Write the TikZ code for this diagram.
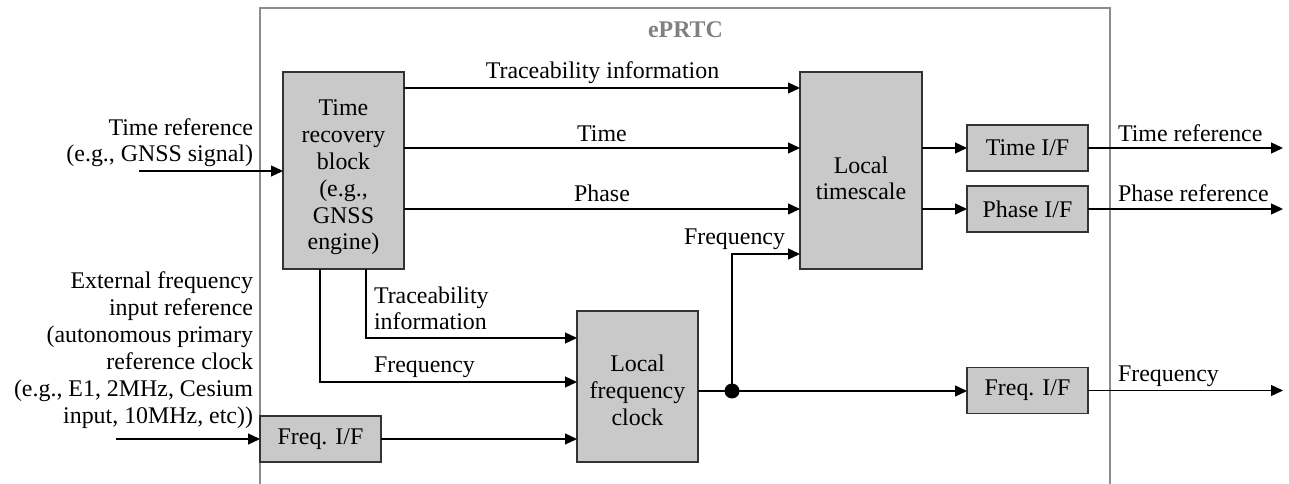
\documentclass[tikz,border=0pt]{standalone}
\usepackage{fontspec}
\setmainfont{Liberation Serif}
\usetikzlibrary{arrows.meta,calc}
\definecolor{boxgray}{RGB}{201,201,201}
\definecolor{framegray}{RGB}{140,140,140}
\definecolor{titlegray}{RGB}{128,128,128}
\begin{document}
\begin{tikzpicture}[x=1bp,y=-1bp,
  every node/.style={font=\fontsize{23.9bp}{26.8bp}\selectfont, inner sep=0pt, outer sep=0pt},
  blk/.style={draw=black!80, fill=boxgray, line width=1.3bp},
  arr/.style={line width=1.3bp, -{Triangle[length=12bp,width=11bp]}},
  ln/.style={line width=1.3bp},
  txt/.style={align=center, anchor=base},
]
\useasboundingbox (0,0) rectangle (1289,484);

% outer frame
\draw[framegray, line width=1.3bp] (260,484) -- (260,8) -- (1110,8) -- (1110,484);
\node[anchor=base, text=titlegray, font=\fontsize{23.9bp}{26.8bp}\selectfont\bfseries] (title) at (685.5,38) {ePRTC};

% blocks
\node[blk, minimum width=121bp, minimum height=197bp] (TRB) at (343.5,170.5) {};
\node[blk, minimum width=122bp, minimum height=197bp] (LT) at (861,170.5) {};
\node[blk, minimum width=121bp, minimum height=151bp] (LFC) at (637.5,386.5) {};
\node[blk, minimum width=121bp, minimum height=46bp] (TIF) at (1027.5,148) {Time I/F};
\node[blk, minimum width=121bp, minimum height=46bp] (PIF) at (1027.5,209) {Phase I/F};
\node[blk, minimum width=121bp, minimum height=46bp] (FIF2) at (1027.5,390.5) {Freq. I/F};
\node[blk, minimum width=121bp, minimum height=46bp] (FIF1) at (320.5,439) {Freq. I/F};

% block texts (base = baseline of last line)
\node[txt] (TRBt) at (343.5,250) {Time\\recovery\\block\\(e.g.,\\GNSS\\engine)};
\node[txt] (LTt) at (861,200) {Local\\timescale};
\node[txt] (LFCt) at (637.5,425) {Local\\frequency\\clock};

% helper coordinates
\coordinate (yTI) at (0,88);
\coordinate (yF) at (0,254);
\coordinate (yT2) at (0,338);
\coordinate (yF2) at (0,382);
\coordinate (xT) at (366,0);
\coordinate (xF) at (320,0);
\coordinate (in1) at (139,171);
\coordinate (in2) at (116,439);
\coordinate (outx) at (1283,0);
\node[circle, fill=black, minimum size=15bp] (dot) at (732,391) {};

% connectors TRB -> LT
\draw[arr] (TRB.east |- yTI) -- (LT.west |- yTI);
\draw[arr] (TRB.east |- TIF) -- (LT.west |- TIF);
\draw[arr] (TRB.east |- PIF) -- (LT.west |- PIF);
% LT -> IFs
\draw[arr] (LT.east |- TIF) -- (TIF.west);
\draw[arr] (LT.east |- PIF) -- (PIF.west);
% outputs
\draw[arr] (TIF.east) -- (outx |- TIF);
\draw[arr] (PIF.east) -- (outx |- PIF);
\draw[arr] (FIF2.east) -- (outx |- FIF2);
% inputs
\draw[arr] (in1) -- (TRB.west |- in1);
\draw[arr] (in2) -- (FIF1.west);
% TRB -> LFC
\draw[arr] (TRB.south -| xT) |- (LFC.west |- yT2);
\draw[arr] (TRB.south -| xF) |- (LFC.west |- yF2);
\draw[arr] (FIF1.east) -- (LFC.west |- FIF1);
% LFC out
\draw[ln] (LFC.east |- dot) -- (dot.center);
\draw[arr] (dot.center) -- (FIF2.west |- dot);
\draw[arr] (dot.center) |- (LT.west |- yF);

% labels
\node[anchor=base] (lTI) at (602.5,79) {Traceability information};
\node[anchor=base] (lTime) at (602,142) {Time};
\node[anchor=base] (lPh) at (602,202) {Phase};
\node[anchor=base east] (lFr) at (785,245) {Frequency};
\node[anchor=base west, align=left] (lTI2) at (374,330) {Traceability\\information};
\node[anchor=base west] (lFr2) at (374,373) {Frequency};
\node[anchor=base west] (oT) at (1118,142) {Time reference};
\node[anchor=base west] (oP) at (1118,202) {Phase reference};
\node[anchor=base west] (oF) at (1118,382) {Frequency};
\node[anchor=base east, align=right] (iT) at (253,162) {Time reference\\(e.g., GNSS signal)};
\node[anchor=base east, align=right] (iF) at (253,423) {External frequency\\input reference\\(autonomous primary\\reference clock\\(e.g., E1, 2MHz, Cesium\\input, 10MHz, etc))};
\end{tikzpicture}
\end{document}
